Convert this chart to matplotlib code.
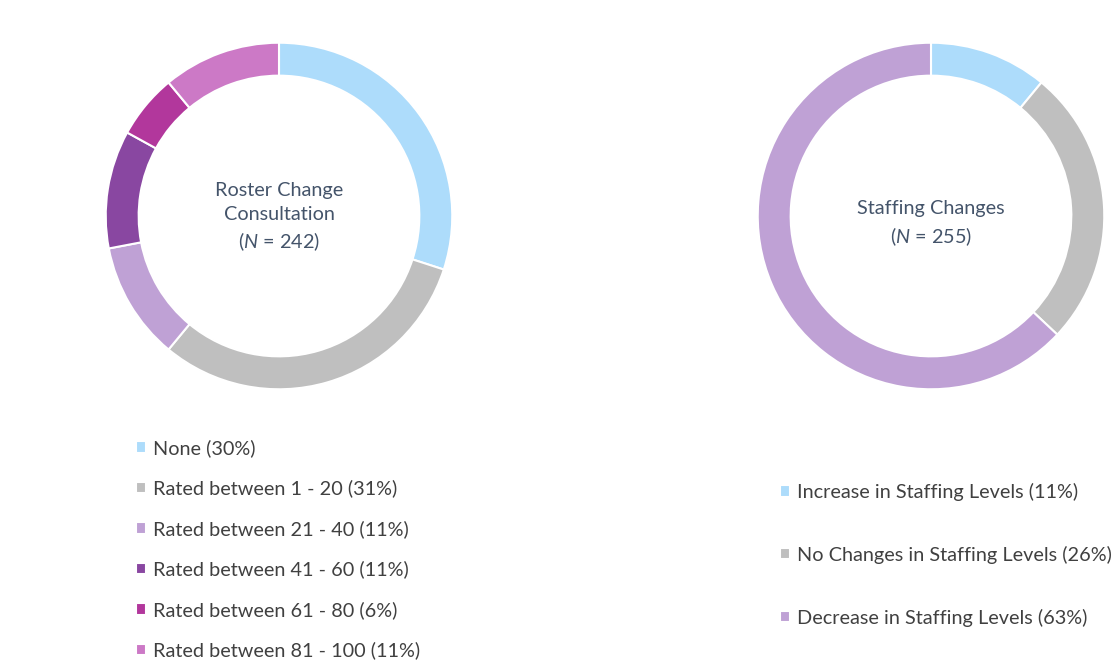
import matplotlib
matplotlib.use("Agg")
import matplotlib.pyplot as plt

plt.rcParams['font.family'] = ['Lato', 'DejaVu Sans']
plt.rcParams['mathtext.fontset'] = 'custom'
plt.rcParams['mathtext.it'] = 'Lato:italic'
plt.rcParams['mathtext.rm'] = 'Lato'

# Roster change consultation
roster_labels = ["None", "Rated between 1 - 20", "Rated between 21 - 40",
                 "Rated between 41 - 60", "Rated between 61 - 80",
                 "Rated between 81 - 100"]
roster_pct = [30, 31, 11, 11, 6, 11]
roster_colors = ["#ADDCFB", "#BFBFBF", "#BFA1D5", "#8947A1", "#B2379C", "#CC79C6"]
roster_n = 242

# Staffing changes
staff_labels = ["Increase in Staffing Levels", "No Changes in Staffing Levels",
                "Decrease in Staffing Levels"]
staff_pct = [11, 26, 63]
staff_colors = ["#ADDCFB", "#BFBFBF", "#BFA1D5"]
staff_n = 255

text_col = "#404040"
center_col = "#44546A"

fig = plt.figure(figsize=(11.12, 6.62), dpi=100)
ax1 = fig.add_axes([104 / 1112, 1 - 391 / 662, 350 / 1112, 350 / 662])
ax2 = fig.add_axes([756 / 1112, 1 - 391 / 662, 350 / 1112, 350 / 662])


def donut(ax, vals, cols, labels, title, n, cy, leg_x, leg_y, spacing):
    wedges, _ = ax.pie(vals, colors=cols, startangle=90, counterclock=False,
                       radius=1.0,
                       wedgeprops=dict(width=0.19, edgecolor="white", linewidth=1.5))
    ax.set_xlim(-1.01, 1.01)
    ax.set_ylim(-1.01, 1.01)
    ax.set_aspect("equal")
    ax.text(0, cy, title + "\n($\\it{N}$ = %d)" % n, ha="center", va="center",
            fontsize=14.3, color=center_col, linespacing=1.45)
    leg_labels = ["%s (%d%%)" % (l, v) for l, v in zip(labels, vals)]
    fig.legend(wedges, leg_labels, loc="upper left",
               bbox_to_anchor=(leg_x, leg_y), frameon=False,
               fontsize=14.3, labelcolor=text_col, handlelength=0.5,
               handleheight=0.5, handletextpad=0.35, labelspacing=spacing,
               borderaxespad=0, borderpad=0)


donut(ax1, roster_pct, roster_colors, roster_labels, "Roster Change\nConsultation",
      roster_n, -0.01, 136 / 1112, 1 - 439 / 662, 1.14)
donut(ax2, staff_pct, staff_colors, staff_labels, "Staffing Changes",
      staff_n, -0.045, 780 / 1112, 1 - 483 / 662, 2.25)

fig.savefig("out.png", dpi=100, facecolor="white")
